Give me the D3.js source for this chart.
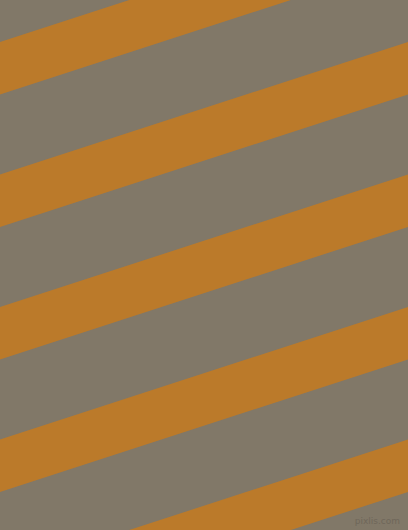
<!DOCTYPE html>
<html>
<head>
<meta charset="utf-8">
<script src="https://cdn.jsdelivr.net/npm/d3@7"></script>
<style>
  html, body { margin: 0; padding: 0; background: #817868; overflow: hidden; }
</style>
</head>
<body>
<div id="viz"></div>
<script>
// stripe pattern: band index, colours, watermark
const bands = [0, 1, 2, 3, 4];
const bandColors = ["#bb7a2a"];
const baseColor = "#817868";
const watermark = "pixlis.com";

const width = 408, height = 530;

const svg = d3.select("#viz").append("svg")
    .attr("width", width)
    .attr("height", height);

svg.append("rect")
    .attr("width", width)
    .attr("height", height)
    .attr("fill", baseColor);

// band index -> y of the band's top edge at the left border
const y = d3.scaleLinear()
    .domain([0, 1])
    .range([42, 174.5]);

// bands rise to the right at about 18 degrees
const slope = Math.tan(18 * Math.PI / 180);
const thick = 52.5;

const line = d3.line();

svg.selectAll("path.band")
    .data(bands)
    .enter()
    .append("path")
    .attr("class", "band")
    .attr("fill", bandColors[0])
    .attr("d", d => {
        const y0 = y(d);
        return line([
            [0, y0],
            [width, y0 - slope * width],
            [width, y0 - slope * width + thick],
            [0, y0 + thick]
        ]) + "Z";
    });

svg.append("text")
    .attr("x", 400)
    .attr("y", 524)
    .attr("text-anchor", "end")
    .style("font-family", "DejaVu Sans, sans-serif")
    .style("font-size", "9px")
    .style("fill", "#6f675a")
    .text(watermark);
</script>
</body>
</html>
